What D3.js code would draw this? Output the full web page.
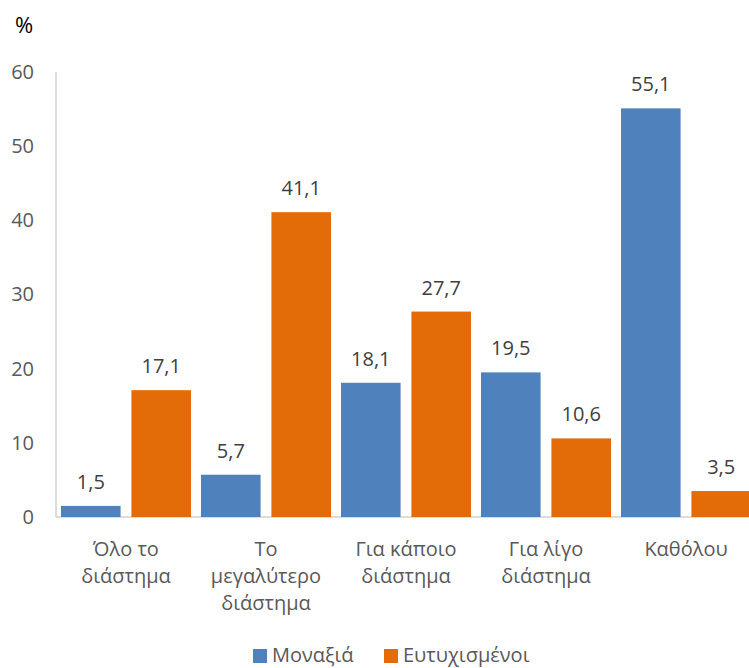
<!DOCTYPE html>
<html><head><meta charset="utf-8">
<script src="https://cdn.jsdelivr.net/npm/d3@7"></script>
<style>body{margin:0;background:#fff}svg{display:block}</style>
</head><body>
<svg id="c" width="749" height="668"></svg>
<script>
const categories = [["Όλο το","διάστημα"],["Το","μεγαλύτερο","διάστημα"],["Για κάποιο","διάστημα"],["Για λίγο","διάστημα"],["Καθόλου"]];
const seriesNames = ["Μοναξιά","Ευτυχισμένοι"];
const lonely = [1.5, 5.7, 18.1, 19.5, 55.1];
const happy = [17.1, 41.1, 27.7, 10.6, 3.5];
const yTicks = [0,10,20,30,40,50,60];
const colors = ["#4F81BD","#E36C09"];
const font = "'Open Sans', sans-serif";

const svg = d3.select("#c");
const plotLeft = 56, plotRight = 756, plotTop = 72, plotBottom = 517;
const x = d3.scaleBand().domain(d3.range(categories.length)).range([plotLeft, plotRight]).paddingInner(0).paddingOuter(0);
const xs = d3.scaleBand().domain([0,1]).range([5, x.bandwidth()-5]).paddingInner(20/130);
const y = d3.scaleLinear().domain([0,60]).range([plotBottom, plotTop]);

// axis lines
svg.append("line").attr("x1",plotLeft).attr("x2",plotLeft).attr("y1",plotTop).attr("y2",plotBottom).attr("stroke","#D0D0D0").attr("stroke-width",1.5);
svg.append("line").attr("x1",plotLeft).attr("x2",749).attr("y1",plotBottom).attr("y2",plotBottom).attr("stroke","#D0D0D0").attr("stroke-width",1.5);

// y tick labels
const yAxis = d3.axisLeft(y).tickValues(yTicks).tickSize(0).tickPadding(0).tickFormat(d3.format("d"));
const ya = svg.append("g").attr("transform",`translate(34,0)`).call(yAxis);
ya.select(".domain").remove();
ya.selectAll("text").attr("font-family",font).attr("font-size",20).attr("fill","#595959");

svg.append("text").attr("x",15).attr("y",33).text("%").attr("font-family",font).attr("font-size",22).attr("fill","#000");

const seriesData = [lonely, happy];
seriesData.forEach((vals, s) => {
  const g = svg.append("g");
  g.selectAll("rect").data(vals).join("rect")
    .attr("x",(d,i)=>x(i)+xs(s)).attr("width",xs.bandwidth())
    .attr("y",d=>y(d)).attr("height",d=>plotBottom-y(d)).attr("fill",colors[s]);
  g.selectAll("text").data(vals).join("text")
    .attr("x",(d,i)=>x(i)+xs(s)+xs.bandwidth()/2).attr("y",d=>y(d)-17)
    .attr("text-anchor","middle").attr("font-family",font).attr("font-size",20).attr("fill","#404040")
    .text(d=>d3.format(".1f")(d).replace(".",","));
});

// category labels
const cl = svg.append("g");
categories.forEach((lines,i)=>{
  const t = cl.append("text").attr("text-anchor","middle").attr("font-family",font).attr("font-size",20).attr("fill","#595959");
  lines.forEach((ln,j)=>{
    t.append("tspan").attr("x",x(i)+x.bandwidth()/2).attr("y",556+j*27).text(ln);
  });
});

// legend
const leg = svg.append("g");
const legX = [253, 384];
seriesNames.forEach((n,i)=>{
  leg.append("rect").attr("x",legX[i]).attr("y",649).attr("width",14).attr("height",14).attr("fill",colors[i]);
  leg.append("text").attr("x",legX[i]+19).attr("y",662).text(n).attr("font-family",font).attr("font-size",20).attr("fill","#595959");
});
</script>
</body></html>
